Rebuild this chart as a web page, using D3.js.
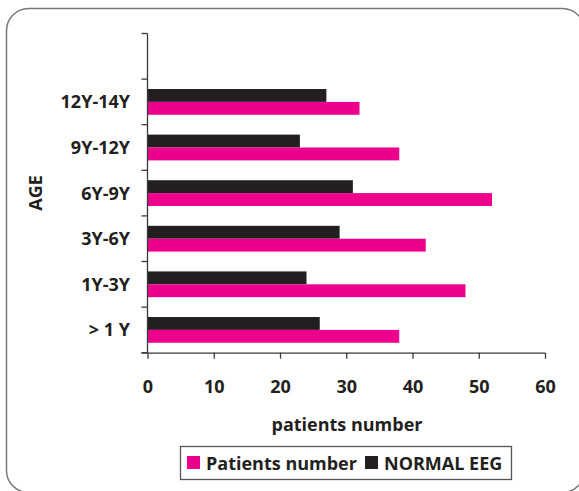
<!DOCTYPE html>
<html><head><meta charset="utf-8">
<script src="https://cdn.jsdelivr.net/npm/d3@7/dist/d3.min.js"></script>
<style>body{margin:0;background:#fff}svg{display:block}text{font-family:"Open Sans",sans-serif;font-weight:700;fill:#231f20}</style>
</head><body><svg id="c" width="579" height="491"></svg>
<script>
const categories = ["", "12Y-14Y", "9Y-12Y", "6Y-9Y", "3Y-6Y", "1Y-3Y", "> 1 Y"];
const patientsNumber = [null, 32, 38, 52, 42, 48, 38];
const normalEEG = [null, 27, 23, 31, 29, 24, 26];
const seriesNames = ["NORMAL EEG", "Patients number"];
const seriesColors = ["#231f20", "#ec008c"];
const xTicks = [0, 10, 20, 30, 40, 50, 60];

const FS = 18;
const svg = d3.select("#c");
svg.append("rect").attr("x", 6.5).attr("y", 8.5).attr("width", 578).attr("height", 484)
  .attr("rx", 22).attr("fill", "none").attr("stroke", "#777").attr("stroke-width", 1.5);

const x = d3.scaleLinear().domain([0, 60]).range([147.5, 545]);
const y = d3.scaleBand().domain(categories).range([33.5, 352.7]).padding(0);
const sub = d3.scaleBand().domain(seriesNames).range([0, y.bandwidth()]).paddingInner(0).paddingOuter(0.77);

const rows = categories.map((c, i) => ({c, vals: [normalEEG[i], patientsNumber[i]]}));
const g = svg.append("g");
rows.forEach(r => {
  r.vals.forEach((v, j) => {
    if (v == null) return;
    g.append("rect").attr("x", x(0)).attr("y", y(r.c) + sub(seriesNames[j]))
      .attr("width", x(v) - x(0)).attr("height", sub.bandwidth())
      .attr("fill", seriesColors[j]);
  });
});

// y axis
const axisColor = "#3a3a3a";
svg.append("line").attr("x1", x(0)).attr("x2", x(0)).attr("y1", y.range()[0]).attr("y2", y.range()[1])
  .attr("stroke", axisColor).attr("stroke-width", 1.3);
const bounds = categories.map(c => y(c)).concat([y.range()[1]]);
svg.selectAll(".yt").data(bounds).join("line").attr("x1", x(0) - 6).attr("x2", x(0))
  .attr("y1", d => d).attr("y2", d => d).attr("stroke", axisColor).attr("stroke-width", 1.3);
svg.selectAll(".yl").data(categories).join("text").attr("x", 130).attr("y", d => y(d) + y.bandwidth() / 2)
  .attr("dy", "0.36em").attr("text-anchor", "end").attr("font-size", FS).text(d => d);

// x axis
const xa = d3.axisBottom(x).tickValues(xTicks).tickSize(6).tickPadding(0).tickFormat(d3.format("d"));
const xg = svg.append("g").attr("transform", `translate(0,${y.range()[1]})`).call(xa);
xg.select(".domain").attr("stroke", axisColor).attr("stroke-width", 1.3).attr("d", `M${x(0)-6},0.5H${x(60)}`);
xg.selectAll(".tick line").attr("stroke", axisColor).attr("stroke-width", 1.3);
xg.selectAll(".tick text").attr("y", 40).attr("dy", 0).attr("font-size", FS)
  .attr("font-family", "Open Sans").attr("font-weight", 700).attr("fill", "#231f20");

svg.append("text").attr("x", 347).attr("y", 431).attr("text-anchor", "middle").attr("font-size", FS).text("patients number");
svg.append("text").attr("transform", "translate(42,193) rotate(-90)").attr("text-anchor", "middle").attr("font-size", FS).text("AGE");

// legend
const lg = svg.append("g");
lg.append("rect").attr("x", 180.5).attr("y", 446.5).attr("width", 331).attr("height", 33)
  .attr("fill", "none").attr("stroke", "#555").attr("stroke-width", 1.3);
const legendItems = [{name: "Patients number", color: seriesColors[1], x: 187}, {name: "NORMAL EEG", color: seriesColors[0], x: 365}];
legendItems.forEach(it => {
  lg.append("rect").attr("x", it.x).attr("y", 456).attr("width", 13).attr("height", 13).attr("fill", it.color);
  lg.append("text").attr("x", it.x + 19).attr("y", 469.5).attr("font-size", FS).text(it.name);
});
</script></body></html>
